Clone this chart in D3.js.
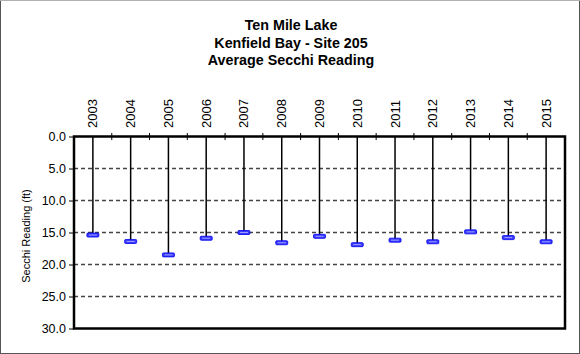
<!DOCTYPE html>
<html>
<head>
<meta charset="utf-8">
<script src="https://cdn.jsdelivr.net/npm/d3@7"></script>
<style>
  body { margin: 0; background: #fff; }
  text { font-family: Arial, "Liberation Sans", sans-serif; fill: #000; }
</style>
</head>
<body>
<div id="chart"></div>
<script>
// data
var years = ["2003", "2004", "2005", "2006", "2007", "2008", "2009", "2010", "2011", "2012", "2013", "2014", "2015"];
var secchi = [15.4, 16.4, 18.5, 15.9, 15.0, 16.6, 15.6, 16.9, 16.2, 16.45, 14.9, 15.8, 16.45];
var yTicks = [0, 5, 10, 15, 20, 25, 30];
var titleLines = ["Ten Mile Lake", "Kenfield Bay - Site 205", "Average Secchi Reading"];

var w = 580;
var h = 354;
var margin = { top: 136.5, right: 15, bottom: 25.5, left: 74 };

var svg = d3.select('#chart')
  .append('svg')
    .attr('width', w)
    .attr('height', h);

// outer frame
svg.append('rect')
  .attr('x', 0.5).attr('y', 0.5)
  .attr('width', w - 1).attr('height', h - 1)
  .attr('fill', '#fff')
  .attr('stroke', '#555');
svg.append('line')
  .attr('x1', 0).attr('x2', w).attr('y1', 0.5).attr('y2', 0.5)
  .attr('stroke', '#b0b0b0');

// title
svg.selectAll('.title')
  .data(titleLines)
  .enter()
  .append('text')
    .attr('class', 'title')
    .attr('x', 291)
    .attr('y', function(d, i) { return 30 + i * 17.5; })
    .attr('text-anchor', 'middle')
    .style('font-size', '14.3px')
    .style('font-weight', 'bold')
    .text(function(d) { return d; });

var x = d3.scaleBand()
  .domain(years)
  .range([margin.left, w - margin.right]);

var y = d3.scaleLinear()
  .domain([0, 30])
  .range([margin.top, h - margin.bottom]);

// dashed gridlines
svg.selectAll('.grid')
  .data(yTicks.filter(function(d) { return d > 0 && d < 30; }))
  .enter()
  .append('line')
    .attr('class', 'grid')
    .attr('x1', margin.left).attr('x2', w - margin.right)
    .attr('y1', function(d) { return y(d); })
    .attr('y2', function(d) { return y(d); })
    .attr('stroke', '#444')
    .attr('stroke-width', 1.5)
    .attr('stroke-dasharray', '4,3');

// left axis
var yAxis = svg.append('g')
  .attr('transform', 'translate(' + margin.left + ',0)')
  .call(d3.axisLeft(y).tickValues(yTicks).tickFormat(d3.format('.1f')).tickSize(5).tickPadding(3));
yAxis.select('.domain').remove();
yAxis.selectAll('text').style('font-size', '12.5px').style('font-family', 'Arial, "Liberation Sans", sans-serif');
yAxis.selectAll('line').attr('stroke', '#000');

// top axis: ticks on band edges, labels rotated
var edges = years.map(function(d) { return x(d); }).slice(1);
svg.selectAll('.topTick')
  .data(edges)
  .enter()
  .append('line')
    .attr('class', 'topTick')
    .attr('x1', function(d) { return d; }).attr('x2', function(d) { return d; })
    .attr('y1', margin.top - 3.5).attr('y2', margin.top + 3.5)
    .attr('stroke', '#000');

svg.selectAll('.yearLabel')
  .data(years)
  .enter()
  .append('text')
    .attr('class', 'yearLabel')
    .attr('transform', function(d) {
      return 'translate(' + (x(d) + x.bandwidth() / 2 + 4.5) + ',' + 128 + ') rotate(-90)';
    })
    .style('font-size', '13px')
    .text(function(d) { return d; });

// y axis title
svg.append('text')
  .attr('transform', 'translate(30,236) rotate(-90)')
  .attr('text-anchor', 'middle')
  .style('font-size', '11px')
  .text('Secchi Reading (ft)');

// drop lines from surface to reading
svg.selectAll('.drop')
  .data(secchi)
  .enter()
  .append('line')
    .attr('class', 'drop')
    .attr('x1', function(d, i) { return x(years[i]) + x.bandwidth() / 2; })
    .attr('x2', function(d, i) { return x(years[i]) + x.bandwidth() / 2; })
    .attr('y1', y(0))
    .attr('y2', function(d) { return y(d); })
    .attr('stroke', '#000')
    .attr('stroke-width', 1.5);

// markers
var mk = svg.selectAll('.marker')
  .data(secchi)
  .enter()
  .append('g')
    .attr('class', 'marker')
    .attr('transform', function(d, i) {
      return 'translate(' + (x(years[i]) + x.bandwidth() / 2) + ',' + y(d) + ')';
    });
mk.append('rect')
  .attr('x', -6).attr('y', -2)
  .attr('width', 12).attr('height', 4)
  .attr('rx', 1)
  .attr('fill', '#3a3aff')
  .attr('stroke', '#0000ee')
  .attr('stroke-width', 0.8);
mk.append('line')
  .attr('x1', -4).attr('x2', 4)
  .attr('y1', 0).attr('y2', 0)
  .attr('stroke', '#b8b8ff')
  .attr('stroke-width', 0.8);

// plot border
svg.append('rect')
  .attr('x', margin.left).attr('y', margin.top)
  .attr('width', w - margin.left - margin.right)
  .attr('height', h - margin.top - margin.bottom)
  .attr('fill', 'none')
  .attr('stroke', '#000')
  .attr('stroke-width', 2.5);
</script>
</body>
</html>
